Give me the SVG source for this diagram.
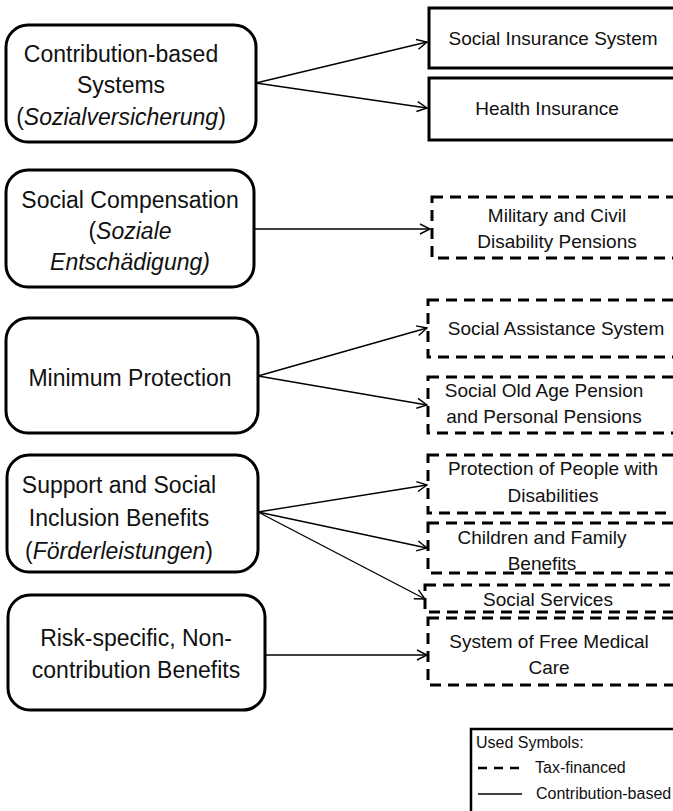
<svg xmlns="http://www.w3.org/2000/svg" width="673" height="811" viewBox="0 0 673 811">
<defs>
<marker id="arr" viewBox="0 0 12 12" refX="11" refY="6" markerWidth="12" markerHeight="12" markerUnits="userSpaceOnUse" orient="auto">
<path d="M1,1 L11,6 L1,11" fill="none" stroke="#000" stroke-width="1.4"/>
</marker>
</defs>
<style>
.cat{fill:#fff;stroke:#000;stroke-width:3}
.sol{fill:#fff;stroke:#000;stroke-width:3}
.dsh{fill:none;stroke:#000;stroke-width:3;stroke-dasharray:11 7}
.lt{font-family:"Liberation Sans",Arial,sans-serif;font-size:23px;fill:#111;text-anchor:middle}
.rt{font-family:"Liberation Sans",Arial,sans-serif;font-size:19px;fill:#111;text-anchor:middle}
.lg{font-family:"Liberation Sans",Arial,sans-serif;font-size:16px;fill:#111}
.con{stroke:#000;stroke-width:1.4;fill:none;marker-end:url(#arr)}
</style>
<rect width="673" height="811" fill="#fff"/>

<g id="connectors">
<line class="con" x1="256" y1="83" x2="427" y2="42"/>
<line class="con" x1="256" y1="83" x2="427" y2="108"/>
<line class="con" x1="254" y1="229" x2="430" y2="229"/>
<line class="con" x1="258" y1="376" x2="427" y2="328"/>
<line class="con" x1="258" y1="376" x2="427" y2="405"/>
<line class="con" x1="258" y1="512" x2="427" y2="485"/>
<line class="con" x1="258" y1="512" x2="427" y2="548"/>
<line class="con" x1="258" y1="512" x2="425" y2="599"/>
<line class="con" x1="265" y1="655" x2="427" y2="655"/>
</g>

<g id="contribution-based">
<rect class="cat" x="6" y="25" width="250" height="117" rx="22"/>
<text class="lt" x="121" y="62">Contribution-based</text>
<text class="lt" x="121" y="93">Systems</text>
<text class="lt" x="121" y="125">(<tspan font-style="italic">Sozialversicherung</tspan>)</text>
</g>

<g id="social-compensation">
<rect class="cat" x="6" y="170" width="248" height="117" rx="22"/>
<text class="lt" x="130" y="208">Social Compensation</text>
<text class="lt" x="130" y="239">(<tspan font-style="italic">Soziale</tspan></text>
<text class="lt" x="130" y="270" font-style="italic">Entschädigung)</text>
</g>

<g id="minimum-protection">
<rect class="cat" x="6" y="318" width="252" height="115" rx="22"/>
<text class="lt" x="130" y="386">Minimum Protection</text>
</g>

<g id="support">
<rect class="cat" x="7" y="455" width="251" height="117" rx="22"/>
<text class="lt" x="119" y="493">Support and Social</text>
<text class="lt" x="119" y="526">Inclusion Benefits</text>
<text class="lt" x="119" y="559">(<tspan font-style="italic">Förderleistungen</tspan>)</text>
</g>

<g id="risk-specific">
<rect class="cat" x="8" y="595" width="257" height="115" rx="22"/>
<text class="lt" x="136" y="646">Risk-specific, Non-</text>
<text class="lt" x="136" y="678">contribution Benefits</text>
</g>

<g id="social-insurance">
<rect class="sol" x="429" y="8" width="260" height="60"/>
<text class="rt" x="553" y="45">Social Insurance System</text>
</g>

<g id="health-insurance">
<rect class="sol" x="429" y="78" width="260" height="62"/>
<text class="rt" x="547" y="115">Health Insurance</text>
</g>

<g id="military">
<rect class="dsh" x="432" y="197" width="257" height="61"/>
<text class="rt" x="557" y="222">Military and Civil</text>
<text class="rt" x="557" y="248">Disability Pensions</text>
</g>

<g id="social-assistance">
<rect class="dsh" x="428" y="300" width="261" height="57"/>
<text class="rt" x="556" y="335">Social Assistance System</text>
</g>

<g id="old-age">
<rect class="dsh" x="428" y="377" width="261" height="56"/>
<text class="rt" x="544" y="397">Social Old Age Pension</text>
<text class="rt" x="544" y="423">and Personal Pensions</text>
</g>

<g id="disabilities">
<rect class="dsh" x="428" y="455" width="261" height="58"/>
<text class="rt" x="553" y="475">Protection of People with</text>
<text class="rt" x="553" y="502">Disabilities</text>
</g>

<g id="children">
<rect class="dsh" x="428" y="523" width="261" height="50"/>
<text class="rt" x="542" y="544">Children and Family</text>
<text class="rt" x="542" y="570">Benefits</text>
</g>

<g id="social-services">
<rect class="dsh" x="425" y="585" width="264" height="27"/>
<text class="rt" x="548" y="606">Social Services</text>
</g>

<g id="free-medical">
<rect class="dsh" x="428" y="618" width="261" height="67"/>
<text class="rt" x="549" y="648">System of Free Medical</text>
<text class="rt" x="549" y="674">Care</text>
</g>

<g id="legend">
<rect x="471" y="729" width="220" height="90" fill="#fff" stroke="#000" stroke-width="2.5"/>
<text class="lg" x="476" y="748">Used Symbols:</text>
<line x1="478" y1="768" x2="522" y2="768" stroke="#000" stroke-width="2.5" stroke-dasharray="9 7"/>
<text class="lg" x="535" y="773">Tax-financed</text>
<line x1="478" y1="794" x2="522" y2="794" stroke="#000" stroke-width="1.6"/>
<text class="lg" x="536" y="799">Contribution-based</text>
</g>
</svg>
